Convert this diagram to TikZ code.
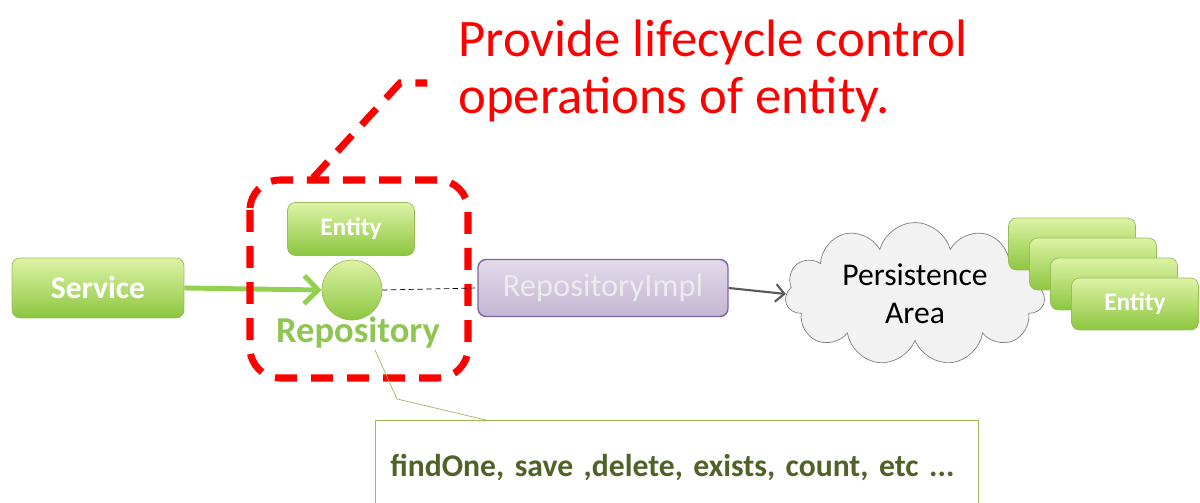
\documentclass[tikz,border=0pt]{standalone}
\usepackage{fontspec}
\setmainfont{Carlito}
\usetikzlibrary{arrows.meta,shapes.symbols}
\definecolor{gtop}{HTML}{DDF3A6}
\definecolor{gbot}{HTML}{8CC63F}
\definecolor{gline}{HTML}{9BBB59}
\definecolor{garrow}{HTML}{92D050}
\definecolor{repogreen}{HTML}{8FC653}
\definecolor{ptop}{HTML}{E2DAEA}
\definecolor{pbot}{HTML}{C4B6D4}
\definecolor{pline}{HTML}{8064A2}
\definecolor{olive}{HTML}{4F6228}
\definecolor{callred}{HTML}{FF0000}
\tikzset{
  gbox/.style={draw=gline, rounded corners=0.16cm, top color=gtop, bottom color=gbot,
    text=white, font=\bfseries},
  implbox/.style={draw=pline, line width=0.8pt, rounded corners=0.16cm, top color=ptop,
    bottom color=pbot, text=black!8, font=\fontsize{18.5}{22}\selectfont},
  callout/.style={draw=callred, line width=4pt, dash pattern=on 12.5pt off 8pt},
}
\begin{document}
\begin{tikzpicture}[x=0.02cm,y=-0.02cm]
\useasboundingbox (0,0) rectangle (1200,503);
% title
\node[anchor=north west, inner sep=0, align=left, text=callred,
  font=\fontsize{30}{32}\selectfont] (title) at (458,20)
  {Provide lifecycle control\\operations of entity.};
% service side
\node[gbox, minimum width=3.44cm, minimum height=1.2cm, font=\bfseries\fontsize{18}{20}\selectfont]
  (svc) at (98,288) {Service};
\node[gbox, minimum width=2.54cm, minimum height=1.06cm, font=\bfseries\fontsize{14.4}{16}\selectfont]
  (ent) at (351,229) {Entity};
\node[circle, draw=gline, top color=gtop, bottom color=gbot, minimum size=1.2cm, inner sep=0]
  (port) at (352,290) {};
\node[text=repogreen, font=\bfseries\fontsize{20.8}{24}\selectfont, inner sep=0]
  (repo) at (358,333) {Repository};
\draw[garrow, line width=2.8pt, -{Straight Barb[length=8pt,width=16pt]}] (svc.east) -- (port.west);
% callout
\draw[callout, rounded corners=0.6cm] (250,180) rectangle (468,378);
\draw[callout] (313,178) -- (400,83) -- (427,83);
% impl and storage
\node[implbox, minimum width=5cm, minimum height=1.14cm] (impl) at (603,288) {RepositoryImpl};
\draw[densely dashed, thin] (port.east) -- (impl.west);
\node[cloud, cloud puffs=11, aspect=2, draw=black!50, fill=black!5, minimum width=5.2cm,
  minimum height=2.4cm, inner sep=0, align=center, font=\fontsize{18}{21.5}\selectfont]
  (store) at (915,294) {Persistence\\Area};
\draw[black!65, line width=1.2pt, -{Straight Barb[length=5pt,width=10pt]}] (impl.east) -- (store.west);
\foreach \i in {0,1,2}
{
  \node[gbox, minimum width=2.54cm, minimum height=1.04cm] (ent\i) at ({1072+21*\i},{244+20*\i}) {};
}
\node[gbox, minimum width=2.54cm, minimum height=1.04cm, font=\bfseries\fontsize{14.4}{16}\selectfont]
  (ent3) at (1135,304) {Entity};
% operations note
\node[draw=gline, fill=white, anchor=north west, minimum height=1.9cm, text width=11.46cm,
  inner xsep=0.3cm, align=left, text=olive, font=\bfseries\fontsize{18}{20}\selectfont]
  (ops) at (375,420) {findOne, save ,delete, exists, count, etc ...};
\coordinate (tip) at (375,350);
\draw[gline] (tip) -- (397,399) -- (486,420);
\end{tikzpicture}
\end{document}
